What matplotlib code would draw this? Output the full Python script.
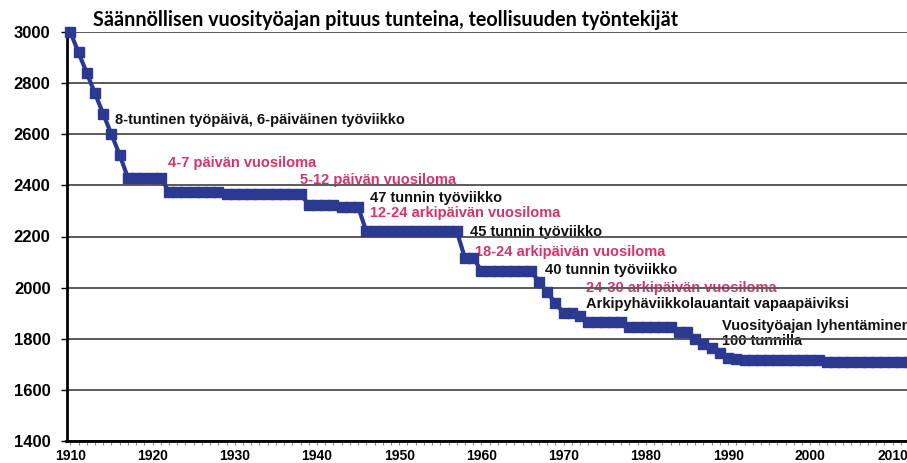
import matplotlib

matplotlib.use("Agg")
import matplotlib.pyplot as plt
from matplotlib.ticker import MultipleLocator

# Regular annual working time (hours), industrial workers, one value per year
years = list(range(1910, 2013))
hours = (
    [3000, 2920, 2840, 2760, 2680, 2600, 2520]      # 1910-1916
    + [2430] * 5                                     # 1917-1921
    + [2375] * 7                                     # 1922-1928
    + [2365] * 10                                    # 1929-1938
    + [2325] * 4                                     # 1939-1942
    + [2316] * 3                                     # 1943-1945
    + [2220] * 12                                    # 1946-1957
    + [2115] * 2                                     # 1958-1959
    + [2066] * 7                                     # 1960-1966
    + [2023, 1981, 1940, 1900, 1900, 1889]           # 1967-1972
    + [1866] * 5                                     # 1973-1977
    + [1845] * 6                                     # 1978-1983
    + [1827] * 2                                     # 1984-1985
    + [1800, 1781, 1762, 1743, 1725, 1720]           # 1986-1991
    + [1716] * 10                                    # 1992-2001
    + [1710] * 11                                    # 2002-2012
)

x_ticks = list(range(1910, 2020, 10))
y_ticks = list(range(1400, 3001, 200))

# (text, x, y, colour key)
notes = [
    ("8-tuntinen työpäivä, 6-päiväinen työviikko", 1915.4, 2655, "k"),
    ("4-7 päivän vuosiloma", 1921.9, 2487, "p"),
    ("5-12 päivän vuosiloma", 1937.9, 2421, "p"),
    ("47 tunnin työviikko", 1946.4, 2352, "k"),
    ("12-24 arkipäivän vuosiloma", 1946.4, 2292, "p"),
    ("45 tunnin työviikko", 1958.6, 2218, "k"),
    ("18-24 arkipäivän vuosiloma", 1959.2, 2140, "p"),
    ("40 tunnin työviikko", 1967.7, 2068, "k"),
    ("24-30 arkipäivän vuosiloma", 1972.7, 2000, "p"),
    ("Arkipyhäviikkolauantait vapaapäiviksi", 1972.7, 1935, "k"),
    ("Vuosityöajan lyhentäminen", 1989.3, 1850, "k"),
    ("100 tunnilla", 1989.3, 1793, "k"),
]

NAVY = "#2b3990"
PINK = "#d4336b"
GRID = "#5a5a5a"

fig = plt.figure(figsize=(9.07, 4.63), dpi=100)
ax = fig.add_axes([66.5 / 907, 1 - 441 / 463, 1 - 66.5 / 907, (441 - 32) / 463])

ax.plot(years, hours, color=NAVY, lw=3, marker="s", ms=7,
        mec=NAVY, mfc=NAVY, zorder=5, clip_on=False)

ax.set_xlim(1909.54, 2011.75)
ax.set_ylim(1400, 3000)
ax.set_xticks(x_ticks)
ax.xaxis.set_minor_locator(MultipleLocator(1))
ax.set_yticks(y_ticks)

ax.grid(axis="y", color=GRID, lw=1.4, zorder=3)
ax.set_axisbelow(False)
ax.xaxis.grid(False)

for side in ("top", "right"):
    ax.spines[side].set_visible(False)
for side in ("left", "bottom"):
    ax.spines[side].set_linewidth(2)
    ax.spines[side].set_zorder(4)

ax.tick_params(axis="y", length=4, width=1, pad=7.5, labelsize=12)
ax.tick_params(axis="x", which="both", length=3, width=0.8, color="#888888",
               pad=3, labelsize=10)
for lab in ax.get_xticklabels() + ax.get_yticklabels():
    lab.set_fontfamily("Liberation Sans")
    lab.set_fontweight("bold")

for text, x, y, c in notes:
    ax.text(x, y, text, family="Liberation Sans", fontsize=10.5,
            color=PINK if c == "p" else "#111111", weight="bold",
            va="center", ha="left", zorder=1, clip_on=False)

fig.text(93 / 907, 1 - 19.5 / 463,
         "Säännöllisen vuosityöajan pituus tunteina, teollisuuden työntekijät",
         fontsize=14.2, family="Lato", weight="bold", va="center", ha="left")

fig.savefig("out.png", dpi=100, facecolor="white")
plt.close(fig)
